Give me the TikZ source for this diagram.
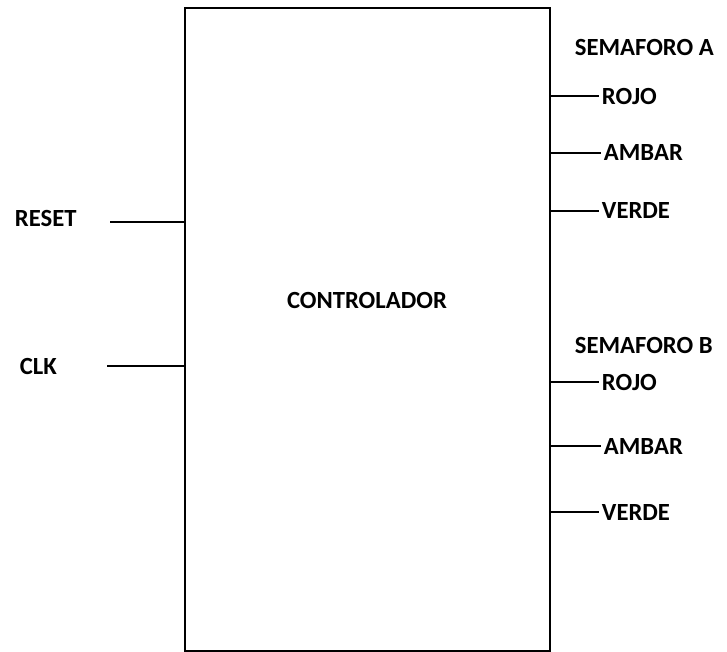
\documentclass[tikz,border=0pt]{standalone}
\usepackage{fontspec}
\setmainfont{Carlito}
\usetikzlibrary{positioning}

\begin{document}
\begin{tikzpicture}[
  x=0.75pt, y=-0.75pt,
  every node/.style={font=\fontsize{18.5}{20}\selectfont\bfseries},
  bloque/.style={draw, line width=1.5pt, minimum width=365*0.75pt, minimum height=642*0.75pt, inner sep=0pt},
  senal/.style={anchor=west, inner sep=2pt},
  cable/.style={line width=1.1pt}
]
\useasboundingbox (0,0) rectangle (727,652);
\node[bloque] (ctrl) at (367.5,329.5) {};
\node (titulo) at (367,300) {CONTROLADOR};
% entradas
\node[senal] (reset) at (12,218) {RESET};
\node[senal] (clk) at (17,366) {CLK};
\coordinate (resetin) at (110,222);
\coordinate (clkin) at (107,366);
\draw[cable] (resetin) -- (resetin -| ctrl.west);
\draw[cable] (clkin) -- (clkin -| ctrl.west);
% semaforo A
\node[senal] (semA) at (572,47) {SEMAFORO A};
\node[senal] (rojoA) at (599,96) {ROJO};
\node[senal] (ambarA) at (601,153) {AMBAR};
\node[senal] (verdeA) at (599,211) {VERDE};
\draw[cable] (ctrl.east |- rojoA) -- (rojoA.west);
\draw[cable] (ctrl.east |- ambarA) -- (ambarA.west);
\draw[cable] (ctrl.east |- verdeA) -- (verdeA.west);
% semaforo B
\node[senal] (semB) at (572,345) {SEMAFORO B};
\node[senal] (rojoB) at (599,382) {ROJO};
\node[senal] (ambarB) at (601,446) {AMBAR};
\node[senal] (verdeB) at (599,512) {VERDE};
\draw[cable] (ctrl.east |- rojoB) -- (rojoB.west);
\draw[cable] (ctrl.east |- ambarB) -- (ambarB.west);
\draw[cable] (ctrl.east |- verdeB) -- (verdeB.west);
\end{tikzpicture}
\end{document}
